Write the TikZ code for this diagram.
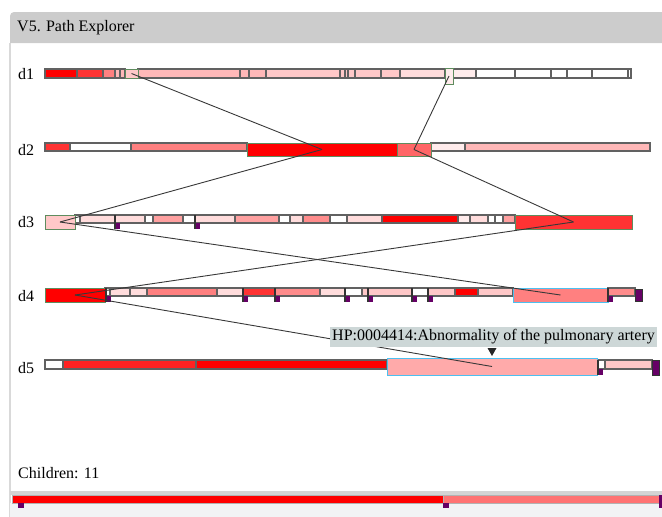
\documentclass[tikz,border=0pt]{standalone}
\usepackage{fontspec}
\setmainfont{Liberation Serif}
\usetikzlibrary{positioning}

\definecolor{gris}{HTML}{CCCCCC}
\definecolor{grisB}{HTML}{D4D4D4}
\definecolor{fondo}{HTML}{F2F3F5}
\definecolor{rojo}{HTML}{FF0000}
\definecolor{rojoB}{HTML}{FF3333}
\definecolor{rojoC}{HTML}{FF2222}
\definecolor{salmon}{HTML}{FF8080}
\definecolor{salmonB}{HTML}{FF8C8C}
\definecolor{salmonC}{HTML}{FF6666}
\definecolor{rosa}{HTML}{FFB8B8}
\definecolor{rosaB}{HTML}{FFC8C8}
\definecolor{rosaC}{HTML}{FFDCDC}
\definecolor{rosaD}{HTML}{FFECEC}
\definecolor{rosaE}{HTML}{FFA0A0}
\definecolor{rosaF}{HTML}{FFAAAA}
\definecolor{morado}{HTML}{660066}
\definecolor{verde}{HTML}{5E8C5E}
\definecolor{cian}{HTML}{4CC0F0}
\definecolor{globo}{HTML}{CDD7D7}

\tikzset{
  texto/.style={inner sep=0pt, anchor=west, font=\fontsize{16}{18}\selectfont},
  seg/.style={draw=black!62, line width=1.1pt},
  ruta/.style={line width=1pt, inner sep=0pt, outer sep=0pt},
  conector/.style={draw=black!78, line width=0.9pt},
}

% fila de segmentos: y arriba, y abajo, lista x1/x2/color
\newcommand{\fila}[3]{%
  \foreach \xa/\xb/\col in {#3} {\filldraw[seg, fill=\col] (\xa,#1) rectangle (\xb,#2);}}
% segmento de la ruta: nombre, x1, x2, y arriba, y abajo, relleno, borde
\newcommand{\tramo}[7]{%
  \node[ruta, draw=#7, fill=#6, minimum width={(#3-#2)*1pt}, minimum height={(#5-#4)*1pt}]
    (#1) at ({(#2+#3)/2},{(#4+#5)/2}) {};}
% marca morada: x, y arriba, y abajo
\newcommand{\marca}[3]{%
  \fill[morado] (#1,#3) rectangle (#1+5,#3+6);
  \draw[line width=1.4pt, black!80] (#1,#2) -- (#1,#3+6);}

\begin{document}
\begin{tikzpicture}[x=1pt, y=-1pt]
    \useasboundingbox (0,0) rectangle (662,517);

    % Panel y titulo
    \fill[gris] (10,43) [rounded corners=4pt] -- (10,12) [sharp corners] -- (662,12) -- (662,43) -- cycle;
    \draw[black!15, line width=1.5pt] (10,43) -- (10,517);
    \node[texto] (titulo) at (17,28) {V5. Path Explorer};

    % Etiquetas de las filas
    \node[texto] (d1) at (18,74) {d1};
    \node[texto] (d2) at (18,150) {d2};
    \node[texto] (d3) at (18,222) {d3};
    \node[texto] (d4) at (18,296) {d4};
    \node[texto] (d5) at (18,368) {d5};

    % Fila d1
    \fila{69}{78}{45/77/rojo, 77/103/rojoB, 103/115/salmon, 115/120/rosa, 120/125/rosa,
      138/240/rosa, 240/249/rosa, 249/266/rosa, 266/340/rosaB, 340/345/rosaB, 345/348/rosaB,
      348/355/rosaB, 355/381/rosaB, 381/400/rosaB, 400/445/rosaC, 453/476/rosaD, 476/515/white,
      515/551/white, 551/567/white, 567/592/white, 592/628/white, 628/631/white}
    \tramo{a1}{125}{138}{69}{78}{rosaB}{verde}
    \tramo{b1}{445}{453}{68}{84}{rosaD}{verde}

    % Fila d2
    \fila{143}{151}{45/70/rojoB, 70/131/white, 131/247/salmon, 431/465/rosaD, 465/650/rosa}
    \tramo{a2}{247}{397}{143}{156}{rojo}{verde}
    \tramo{b2}{397}{431}{143}{156}{salmonC}{verde}

    % Fila d3
    \fila{215}{223}{75/80/white, 80/115/rosaC, 115/145/rosaC, 145/153/white, 153/183/rosaE,
      183/195/white, 195/235/rosaC, 235/279/rosaE, 279/290/white, 290/303/rosaC, 303/330/salmonB,
      330/347/white, 347/382/rosaC, 382/458/rojo, 458/470/rosaD, 470/488/rosaC, 488/495/white,
      495/503/white, 503/515/rosaE}
    \tramo{a3}{45}{75}{215}{229}{rosaB}{verde}
    \tramo{b3}{515}{632}{215}{229}{rojoB}{verde}
    \foreach \x in {115,195} {\marca{\x}{215}{223}}

    % Fila d4
    \fila{288}{296}{105/110/white, 110/130/rosaC, 130/147/rosaC, 147/217/salmon, 217/243/rosaC,
      243/275/rojoB, 275/320/salmonB, 320/345/rosaC, 345/362/white, 362/368/rosaB, 368/412/rosaB,
      412/428/white, 428/455/rosaB, 455/478/rojo, 478/513/rosaB, 608/635/salmonB}
    \tramo{a4}{45}{105}{288}{302}{rojo}{verde}
    \tramo{b4}{513}{608}{288}{302}{salmon}{cian}
    \foreach \x in {106,243,275,345,368,412,428,608} {\marca{\x}{288}{296}}
    \filldraw[morado, draw=black!80] (635,289) rectangle (642,301);

    % Fila d5
    \fila{360}{369}{45/63/white, 63/196/rojoC, 196/387/rojo, 597/605/white, 605/652/rosaB}
    \tramo{a5}{387}{597}{358}{375}{rosaF}{cian}
    \marca{598}{360}{369}
    \filldraw[morado, draw=black!80] (652,360) rectangle (659,375);

    % Conexiones de la ruta
    \draw[conector] (a1.center) -- (a2.center);
    \draw[conector] (b1.center) -- (b2.center);
    \draw[conector] (a2.center) -- (a3.center);
    \draw[conector] (b2.center) -- (b3.center);
    \draw[conector] (a3.center) -- (b4.center);
    \draw[conector] (b3.center) -- (a4.center);
    \draw[conector] (a4.center) -- (a5.center);

    % Globo de ayuda
    \node[texto, fill=globo, inner sep=2pt, minimum height=20pt] (ayuda) at (330,337)
      {HP:0004414:Abnormality of the pulmonary artery};
    \coordinate (punta) at (492,348);
    \fill[black!85] ([xshift=-4.5pt]punta) -- ([xshift=4.5pt]punta) -- ([yshift=-8pt]punta) -- cycle;

    % Hijos y barra inferior
    \node[texto] (hijos) at (18,473) {Children: 11};
    \fill[grisB] (10,491) rectangle (662,495);
    \fill[fondo] (10,503) rectangle (662,517);
    \filldraw[rojo, draw=black!30] (12,495) rectangle (443,503);
    \filldraw[salmon!90!red, draw=black!30] (443,495) rectangle (660,503);
    \foreach \x in {18,443} {\fill[morado] (\x,503) rectangle (\x+6,508);}
    \fill[morado] (659,495) rectangle (662,508);
\end{tikzpicture}
\end{document}
